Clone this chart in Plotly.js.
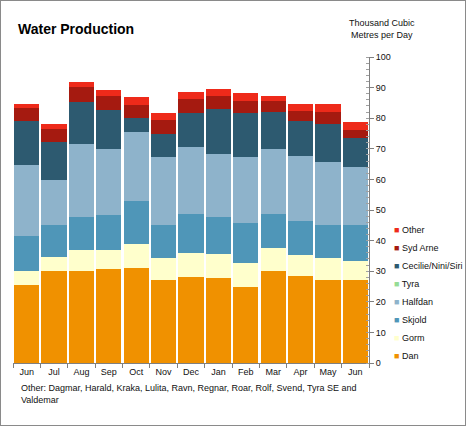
<!DOCTYPE html>
<html><head><meta charset="utf-8">
<script src="https://cdn.plot.ly/plotly-3.0.1.min.js"></script>
<style>
html,body{margin:0;padding:0;background:#fff}
#wrap{position:relative;width:466px;height:426px}
#chart{width:466px;height:426px}
#frame{position:absolute;left:0;top:0;width:466px;height:426px;box-sizing:border-box;border:1px solid #8a8a8a;pointer-events:none}
</style>
</head><body>
<div id="wrap"><div id="chart"></div><div id="frame"></div></div>
<script>
const months = ['Jun','Jul','Aug','Sep','Oct','Nov','Dec','Jan','Feb','Mar','Apr','May','Jun'];
const dan     = [25.4,30.1,30.1,30.7,31.0,27.1,28.0,27.7,24.7,30.1,28.3,27.1,27.1];
const gorm    = [4.6,4.5,6.8,6.2,7.9,7.2,7.9,7.9,8.0,7.5,7.0,7.2,6.2];
const skjold  = [11.6,10.6,10.9,11.6,13.9,10.9,12.9,12.2,13.2,11.2,11.2,10.9,11.9];
const halfdan = [23.0,14.5,23.7,21.3,22.6,22.0,21.7,20.4,21.3,21.0,21.0,20.4,18.8];
const tyra    = [0.1,0.1,0.1,0.1,0.1,0.1,0.1,0.1,0.1,0.1,0.1,0.1,0.1];
const cecilie = [14.4,12.4,13.7,12.8,4.6,7.5,11.1,14.6,14.3,12.1,11.5,12.3,9.4];
const sydArne = [4.1,4.2,4.9,4.4,4.2,4.5,4.5,4.2,3.9,3.5,3.1,3.9,2.7];
const other   = [1.3,1.6,1.6,2.1,2.6,2.4,2.4,2.4,2.7,1.8,2.4,2.7,2.5];

const seriesNames  = ['Dan','Gorm','Skjold','Halfdan','Tyra','Cecilie/Nini/Siri','Syd Arne','Other'];
const seriesValues = [dan,gorm,skjold,halfdan,tyra,cecilie,sydArne,other];
const seriesColors = ['#f09100','#ffffcc','#4f96b8','#8eb3cb','#96dc96','#2d5a70','#a51a10','#ee2a1a'];

const keys = months.map((m,i)=>m+'_'+i);
const FONT = 'Arial, "Liberation Sans", sans-serif';

const traces = seriesNames.map((n,k)=>({
  type:'bar', name:n, x:keys, y:seriesValues[k],
  marker:{color:seriesColors[k], line:{width:0}},
  showlegend:false, hoverinfo:'x+y+name'
}));

const L=13, R=97, T=57, B=63, FW=466, FH=426;
const PW=FW-L-R, PH=FH-T-B;
const px=(x)=>(x-L)/PW, py=(y)=>(FH-B-y)/PH;

const annotations = [];
// custom legend (top: Other ... bottom: Dan)
const legOrder = seriesNames.map((n,k)=>k).reverse();
legOrder.forEach((k,i)=>{
  annotations.push({
    xref:'paper', yref:'paper', x:px(392), y:py(229.5+18.1*i),
    xanchor:'left', yanchor:'middle', showarrow:false, align:'left',
    text:'<span style="color:'+seriesColors[k]+'">■</span> '+seriesNames[k],
    font:{family:FONT, size:9, color:'#111'}
  });
});
annotations.push({
  xref:'paper', yref:'paper', x:px(382), y:py(29), xanchor:'center', yanchor:'middle',
  showarrow:false, align:'center', text:'Thousand Cubic<br>Metres per Day',
  font:{family:FONT, size:9, color:'#111'}
});
annotations.push({
  xref:'paper', yref:'paper', x:px(19), y:py(381), xanchor:'left', yanchor:'top',
  showarrow:false, align:'left',
  text:'Other: Dagmar, Harald, Kraka, Lulita, Ravn, Regnar, Roar, Rolf, Svend, Tyra SE and<br>Valdemar',
  font:{family:FONT, size:9, color:'#111'}
});

const layout = {
  width:FW, height:FH,
  margin:{l:L, r:R, t:T, b:B, pad:0},
  paper_bgcolor:'#fff', plot_bgcolor:'#fff',
  barmode:'stack', bargap:0.08,
  title:{text:'<b>Water Production</b>', x:18/FW, xanchor:'left', xref:'container',
         y:1-29/FH, yanchor:'middle', yref:'container',
         font:{family:FONT, size:14, color:'#000'}},
  xaxis:{type:'category', tickmode:'array', tickvals:keys, ticktext:months,
         tickson:'boundaries', ticks:'outside', ticklen:4, tickcolor:'#808080',
         showline:true, linecolor:'#808080', linewidth:1, showgrid:false, zeroline:false,
         tickfont:{family:FONT, size:9, color:'#111'}, fixedrange:true},
  yaxis:{side:'right', range:[0,100], dtick:10, ticks:'outside', ticklen:4, tickcolor:'#808080',
         showline:true, linecolor:'#808080', linewidth:1, showgrid:false, zeroline:false,
         minor:{dtick:2, ticks:'inside', ticklen:3, tickcolor:'#a0a0a0', showgrid:false},
         tickfont:{family:FONT, size:9, color:'#111'}, fixedrange:true},
  annotations:annotations,
  showlegend:false
};

Plotly.newPlot('chart', traces, layout, {displayModeBar:false, staticPlot:true});
</script>
</body></html>
